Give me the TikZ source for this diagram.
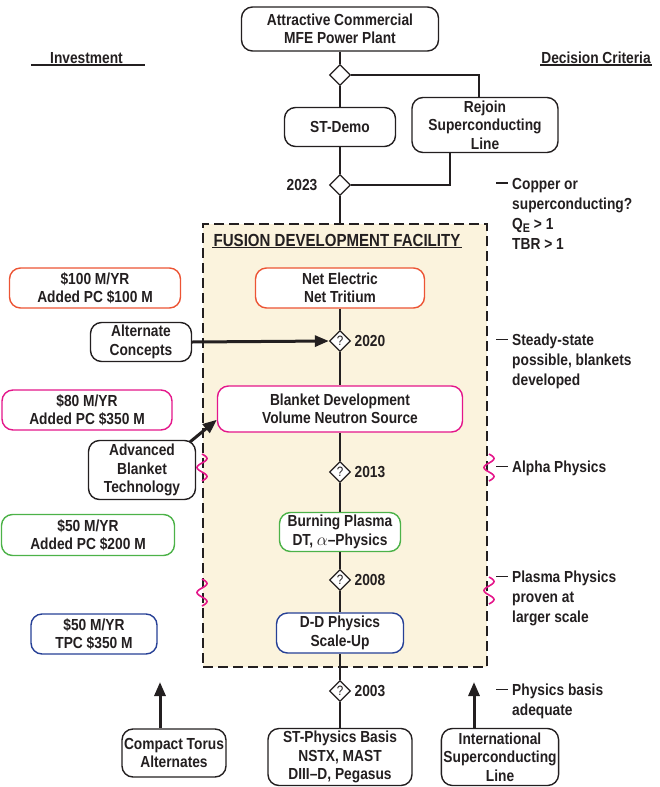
\documentclass[tikz,border=0pt]{standalone}
\usepackage{fontspec}
\setmainfont{Liberation Sans}[FakeStretch=0.86]
\usetikzlibrary{shapes.geometric, arrows.meta}

\definecolor{tinta}{RGB}{35,31,32}
\definecolor{rojo}{RGB}{236,84,52}
\definecolor{rosa}{RGB}{228,22,138}
\definecolor{verde}{RGB}{76,178,72}
\definecolor{azul}{RGB}{38,64,150}
\definecolor{crema}{RGB}{251,243,221}

\newcommand{\guion}{\makebox[16pt][l]{\rule[5.6pt]{12pt}{1.5pt}}}
\newcommand{\sangria}{\hspace*{16pt}}

\begin{document}
\begin{tikzpicture}[x=1pt, y=-1pt,
    font=\bfseries\fontsize{16}{18.5}\selectfont, text=tinta,
    caja/.style={draw=tinta, line width=1.4pt, rounded corners=11pt, fill=white, align=center, inner sep=2pt},
    rombo/.style={diamond, draw=tinta, line width=1.3pt, fill=white, minimum width=21pt, minimum height=21pt, inner sep=0pt, font=\fontsize{13.5}{13.5}\selectfont},
    anio/.style={font=\bfseries\fontsize{16}{18}\selectfont},
    linea/.style={tinta, line width=1.3pt},
    flecha/.style={tinta, line width=3pt, -{Triangle[length=14pt, width=11pt]}},
    nota/.style={anchor=north west, align=left, inner sep=0pt, font=\bfseries\fontsize{16}{20}\selectfont},
    titulo/.style={inner sep=1pt}]
    \useasboundingbox (0,0) rectangle (659,787);

    % Caja de la Fusion Development Facility
    \node[draw=tinta, fill=crema, line width=2pt, dash pattern=on 10pt off 5pt,
        minimum width=284pt, minimum height=443pt, inner sep=0pt] (fdf) at (345,445.5) {};
    \node[titulo, font=\bfseries\fontsize{17.5}{20}\selectfont] (fdftit) at (337,240) {FUSION DEVELOPMENT FACILITY};
    \draw[linea, line width=1.6pt] (fdftit.south west) -- (fdftit.south east);

    % Encabezados
    \node[titulo] (invest) at (88,58) {\hspace*{18pt}Investment\hspace*{21pt}};
    \draw[linea, line width=1.6pt] (invest.south west) -- (invest.south east);
    \node[titulo] (decis) at (596,58) {Decision Criteria};
    \draw[linea, line width=1.6pt] (decis.south west) -- (decis.south east);

    % Linea principal
    \node[caja, minimum width=197pt, minimum height=44pt] (plant) at (340,29) {Attractive Commercial\\MFE Power Plant};
    \node[rombo] (d1) at (340,75) {};
    \node[caja, minimum width=111pt, minimum height=39pt] (stdemo) at (340,127) {ST-Demo};
    \node[caja, minimum width=146pt, minimum height=55pt] (rejoin) at (485,125) {Rejoin\\Superconducting\\Line};
    \node[rombo, label={[anio, label distance=8pt]left:2023}] (d2023) at (340,185) {};

    \node[caja, draw=rojo, minimum width=169pt, minimum height=40pt] (netel) at (340,288) {Net Electric\\Net Tritium};
    \node[caja, draw=rosa, minimum width=245pt, minimum height=46pt] (blanket) at (340,409) {Blanket Development\\Volume Neutron Source};
    \node[caja, draw=verde, minimum width=121pt, minimum height=39pt] (burning) at (340,532) {Burning Plasma\\DT, $\alpha$–Physics};
    \node[caja, draw=azul, minimum width=127pt, minimum height=40pt] (ddphys) at (340,633) {D-D Physics\\Scale-Up};
    \node[caja, minimum width=144pt, minimum height=57pt] (stbasis) at (340,757) {ST-Physics Basis\\NSTX, MAST\\DIII–D, Pegasus};

    % Puntos de decision con su fecha
    \foreach \yr/\yy in {2020/341, 2013/472, 2008/580, 2003/691}
        \node[rombo, label={[anio, label distance=0pt]right:\yr}] (d\yr) at (340,\yy) {?};

    \draw[linea] (plant) -- (d1) -- (stdemo) -- (d2023);
    \draw[linea] (d2023) -- (d2023 |- fdf.north);
    \draw[linea] (d1.east) -| ([xshift=-6pt]rejoin.north);
    \draw[linea] ([xshift=-35pt]rejoin.south) |- (d2023.east);
    \draw[linea] (netel) -- (d2020) -- (blanket) -- (d2013) -- (burning) -- (d2008) -- (ddphys) -- (d2003) -- (stbasis);

    % Inversion (columna izquierda)
    \node[caja, draw=rojo, minimum width=171pt, minimum height=40pt] (inv100) at (95,288) {\$100 M/YR\\Added PC \$100 M};
    \node[caja, minimum width=101pt, minimum height=39pt] (altcon) at (141,342) {Alternate\\Concepts};
    \node[caja, draw=rosa, minimum width=170pt, minimum height=40pt] (inv80) at (87,410) {\$80 M/YR\\Added PC \$350 M};
    \node[caja, minimum width=107pt, minimum height=59pt] (abt) at (142,470) {Advanced\\Blanket\\Technology};
    \node[caja, draw=verde, minimum width=173pt, minimum height=41pt] (inv50) at (88,535) {\$50 M/YR\\Added PC \$200 M};
    \node[caja, draw=azul, minimum width=126pt, minimum height=40pt] (tpc) at (94,634) {\$50 M/YR\\TPC \$350 M};

    \draw[flecha] (altcon.east) -- (d2020.west);
    \draw[flecha] ([xshift=-6pt, yshift=-2pt]abt.north east) -- (blanket.185);

    % Lineas alternativas abajo
    \node[caja, minimum width=104pt, minimum height=48pt] (compact) at (174,753) {Compact Torus\\Alternates};
    \node[caja, minimum width=112pt, minimum height=57pt] (intl) at (500,757) {International\\Superconducting\\Line};
    \coordinate (ctip) at (160,682);
    \coordinate (itip) at (474,682);
    \draw[flecha] (compact.north -| ctip) -- (ctip);
    \draw[flecha] (intl.north -| itip) -- (itip);

    % Ondas en los bordes de la caja
    \foreach \sx/\sy in {202/454, 489/454, 202/579, 489/577}
        \draw[rosa, line width=1.6pt] plot[variable=\t, domain=0:27, samples=50, smooth] ({\sx+5*sin(\t*20)}, {\sy+\t});

    % Criterios de decision (columna derecha)
    \node[nota] (crit1) at (496,178) {\guion Copper or\\\sangria superconducting?\\\sangria Q\raisebox{-3pt}{\fontsize{12.5}{12.5}\selectfont E} > 1\\\sangria TBR > 1};
    \node[nota] (crit2) at (496,334) {\guion Steady-state\\\sangria possible, blankets\\\sangria developed};
    \node[nota] (crit3) at (496,461) {\guion Alpha Physics};
    \node[nota] (crit4) at (496,571) {\guion Plasma Physics\\\sangria proven at\\\sangria larger scale};
    \node[nota] (crit5) at (496,684) {\guion Physics basis\\\sangria adequate};
\end{tikzpicture}
\end{document}
